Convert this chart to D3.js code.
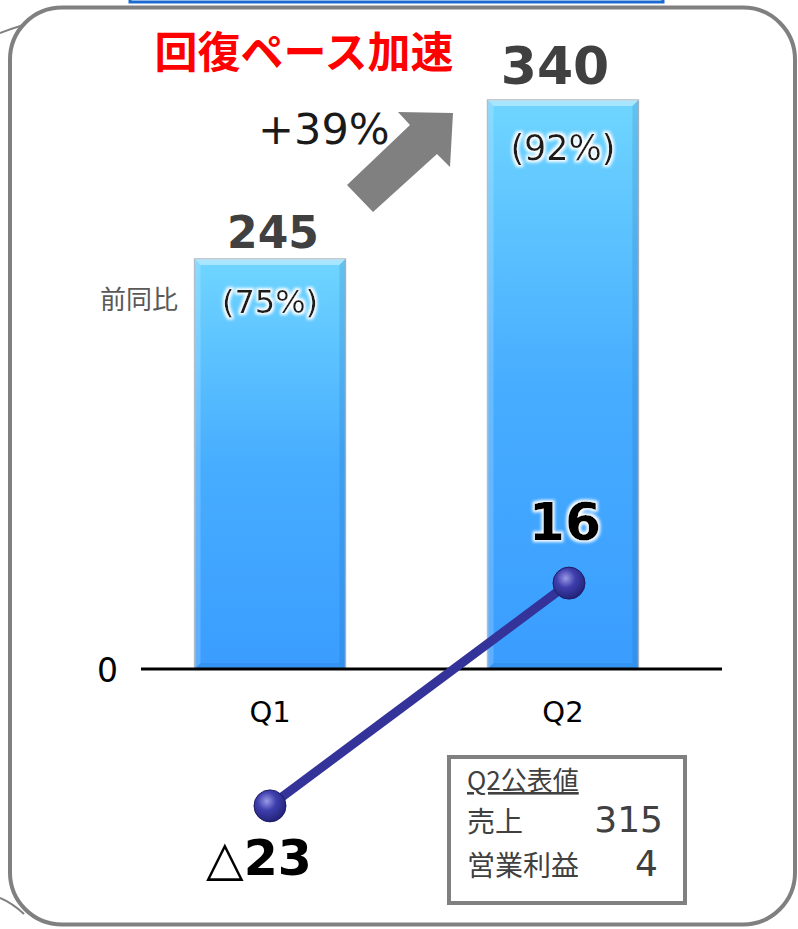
<!DOCTYPE html>
<html>
<head>
<meta charset="utf-8">
<script src="https://cdn.jsdelivr.net/npm/d3@7"></script>
<style>
  html, body { margin: 0; padding: 0; background: #fff; }
  svg { display: block; }
</style>
</head>
<body>
<script>
// ---- data ----
const quarters = ["Q1", "Q2"];
const sales = [245, 340];            // 売上高
const salesYoY = [75, 92];           // 前同比 (%)
const opProfit = [-23, 16];          // 営業利益
const guidanceLabels = ["売上", "営業利益"];
const guidanceValues = [315, 4];
const headline = "回復ペース加速";

const W = 798, H = 929;
const LATIN = "'DejaVu Sans', Verdana, sans-serif";
const JP = "'Noto Sans CJK JP', 'Noto Sans', sans-serif";

const svg = d3.select("body").append("svg")
  .attr("width", W).attr("height", H);

const defs = svg.append("defs");

// bar fill: light cyan at the top fading into blue
const g1 = defs.append("linearGradient").attr("id", "barFill")
  .attr("x1", 0).attr("y1", 0).attr("x2", 0).attr("y2", 1);
g1.append("stop").attr("offset", 0).attr("stop-color", "#6fd5ff");
g1.append("stop").attr("offset", 0.5).attr("stop-color", "#47adff");
g1.append("stop").attr("offset", 1).attr("stop-color", "#3a9dff");

// marker ball
const rg = defs.append("radialGradient").attr("id", "ball")
  .attr("cx", 0.4).attr("cy", 0.35).attr("r", 0.65);
rg.append("stop").attr("offset", 0).attr("stop-color", "#9a9ae6");
rg.append("stop").attr("offset", 0.45).attr("stop-color", "#3f3fae");
rg.append("stop").attr("offset", 1).attr("stop-color", "#23237a");

// white glow behind text
const glow = defs.append("filter").attr("id", "glow")
  .attr("x", "-20%").attr("y", "-30%").attr("width", "140%").attr("height", "160%");
glow.append("feMorphology").attr("in", "SourceAlpha").attr("operator", "dilate")
  .attr("radius", 2).attr("result", "d");
glow.append("feGaussianBlur").attr("in", "d").attr("stdDeviation", 1.6).attr("result", "b");
glow.append("feFlood").attr("flood-color", "#ffffff").attr("result", "w");
glow.append("feComposite").attr("in", "w").attr("in2", "b").attr("operator", "in").attr("result", "wg");
const fm = glow.append("feMerge");
fm.append("feMergeNode").attr("in", "wg");
fm.append("feMergeNode").attr("in", "SourceGraphic");

// ---- frame ----
svg.append("rect").attr("x", 130).attr("y", -12).attr("width", 533).attr("height", 14)
  .attr("fill", "none").attr("stroke", "#1a6ad0").attr("stroke-width", 3);

svg.append("path").attr("d", "M0,33 Q18,26 42,20")
  .attr("fill", "none").attr("stroke", "#808080").attr("stroke-width", 2);
svg.append("path").attr("d", "M0,898 Q12,903 24,914")
  .attr("fill", "none").attr("stroke", "#808080").attr("stroke-width", 2);

svg.append("rect").attr("x", 10).attr("y", 7.5).attr("width", 785).attr("height", 917)
  .attr("rx", 52).attr("ry", 52)
  .attr("fill", "#fff").attr("stroke", "#808080").attr("stroke-width", 4);

// ---- scales ----
const x = d3.scaleBand().domain(quarters).range([52.5, 780.5])
  .paddingInner(0.485).paddingOuter(0.485);
const y = d3.scaleLinear().domain([0, 340]).range([669, 100]);
const yR = d3.scaleLinear().domain([-40, 40]).range([903, 446]);
const xL = d3.scalePoint().domain(quarters).range([270, 569]);

const bw = x.bandwidth();

// ---- bars ----
const bars = svg.append("g");
quarters.forEach((q, i) => {
  const bx = x(q), by = y(sales[i]), bh = y(0) - y(sales[i]);
  const g = bars.append("g");
  g.append("rect").attr("x", bx).attr("y", by).attr("width", bw).attr("height", bh)
    .attr("fill", "url(#barFill)").attr("stroke", "#a9b9c6").attr("stroke-width", 1.5);
  const e = 6;
  g.append("polygon")
    .attr("points", [[bx, by], [bx + bw, by], [bx + bw - e, by + e], [bx + e, by + e]].join(" "))
    .attr("fill", "#ffffff").attr("opacity", 0.4);
  g.append("polygon")
    .attr("points", [[bx, by], [bx + e, by + e], [bx + e, by + bh - e], [bx, by + bh]].join(" "))
    .attr("fill", "#ffffff").attr("opacity", 0.18);
  g.append("polygon")
    .attr("points", [[bx + bw, by], [bx + bw - e, by + e], [bx + bw - e, by + bh - e], [bx + bw, by + bh]].join(" "))
    .attr("fill", "#0a3d7a").attr("opacity", 0.12);
  g.append("polygon")
    .attr("points", [[bx, by + bh], [bx + e, by + bh - e], [bx + bw - e, by + bh - e], [bx + bw, by + bh]].join(" "))
    .attr("fill", "#0a3d7a").attr("opacity", 0.1);
});

// sales value labels above bars, year-on-year ratio inside
const salesFont = [44, 52];
const yoyFont = [32, 35];
const yoyDrop = [54, 60];
quarters.forEach((q, i) => {
  svg.append("text").attr("x", x(q) + bw / 2 + (i === 0 ? 3 : -8)).attr("y", y(sales[i]) - 11 - (i === 1 ? 5 : 0))
    .attr("text-anchor", "middle").attr("font-family", LATIN).attr("font-weight", "bold")
    .attr("font-size", salesFont[i]).attr("fill", "#404040").text(sales[i]);
  svg.append("text").attr("x", x(q) + bw / 2).attr("y", y(sales[i]) + yoyDrop[i])
    .attr("text-anchor", "middle").attr("font-family", LATIN)
    .attr("font-size", yoyFont[i]).attr("fill", "#1a1a1a").attr("filter", "url(#glow)")
    .text(`(${salesYoY[i]}%)`);
});

svg.append("text").attr("x", 100).attr("y", 309)
  .attr("font-family", JP).attr("font-size", 26).attr("fill", "#595959").text("前同比");

// ---- axis ----
svg.append("line").attr("x1", 141).attr("x2", 722).attr("y1", y(0)).attr("y2", y(0))
  .attr("stroke", "#000").attr("stroke-width", 3);
svg.append("text").attr("x", 118).attr("y", y(0) + 13).attr("text-anchor", "end")
  .attr("font-family", LATIN).attr("font-size", 33).attr("fill", "#000").text("0");

const xAxis = svg.append("g").attr("transform", `translate(0,${y(0)})`)
  .call(d3.axisBottom(x).tickSize(0).tickPadding(0));
xAxis.select(".domain").remove();
xAxis.selectAll("text").attr("dy", null).attr("y", 53)
  .attr("font-family", LATIN).attr("font-size", 29).attr("fill", "#000");

// ---- growth arrow ----
const growth = Math.round((sales[1] / sales[0] - 1) * 100);
svg.append("polygon")
  .attr("points", "347,185 410,125 398,112 453,113 450,167 437,154 373,212")
  .attr("fill", "#808080");
svg.append("text").attr("x", 258).attr("y", 144)
  .attr("font-family", LATIN).attr("font-size", 43).attr("fill", "#1a1a1a")
  .text(`+${growth}%`);

svg.append("text").attr("x", 304).attr("y", 68).attr("text-anchor", "middle")
  .attr("font-family", JP).attr("font-weight", "bold").attr("font-size", 43)
  .attr("fill", "#ff0000").text(headline);

// ---- operating profit line ----
const line = d3.line().x((d, i) => xL(quarters[i])).y(d => yR(d));
svg.append("path").datum(opProfit).attr("d", line)
  .attr("fill", "none").attr("stroke", "#333399").attr("stroke-width", 9);
svg.selectAll(".pt").data(opProfit).join("circle").attr("class", "pt")
  .attr("cx", (d, i) => xL(quarters[i])).attr("cy", d => yR(d)).attr("r", 16)
  .attr("fill", "url(#ball)").attr("stroke", "#1c1c66").attr("stroke-width", 1);

const fmt = v => v < 0 ? ["△", String(-v)] : ["", String(v)];
opProfit.forEach((v, i) => {
  const [pre, num] = fmt(v);
  const t = svg.append("text")
    .attr("x", xL(quarters[i]) - (v < 0 ? 11 : 4))
    .attr("y", v < 0 ? yR(v) + 69 : yR(v) - 43)
    .attr("text-anchor", "middle").attr("font-family", LATIN)
    .attr("font-size", v < 0 ? 49 : 52).attr("fill", "#000");
  if (v >= 0) t.attr("filter", "url(#glow)");
  if (pre) t.append("tspan").attr("font-weight", "normal").text(pre);
  t.append("tspan").attr("font-weight", "bold").text(num);
});

// ---- guidance box ----
const box = svg.append("g");
box.append("rect").attr("x", 449).attr("y", 757).attr("width", 236).attr("height", 146)
  .attr("fill", "#fff").attr("stroke", "#808080").attr("stroke-width", 4);
box.append("text").attr("x", 467).attr("y", 790)
  .attr("font-family", JP).attr("font-size", 26).attr("fill", "#404040")
  .attr("text-decoration", "underline").text("Q2公表値");
guidanceLabels.forEach((lab, i) => {
  const by = 832 + i * 44;
  box.append("text").attr("x", 467).attr("y", by)
    .attr("font-family", JP).attr("font-size", 28).attr("fill", "#404040").text(lab);
  box.append("text").attr("x", 663 - (i === 1 ? 5 : 0)).attr("y", by).attr("text-anchor", "end")
    .attr("font-family", LATIN).attr("font-size", 36).attr("fill", "#404040").text(guidanceValues[i]);
});
</script>
</body>
</html>
